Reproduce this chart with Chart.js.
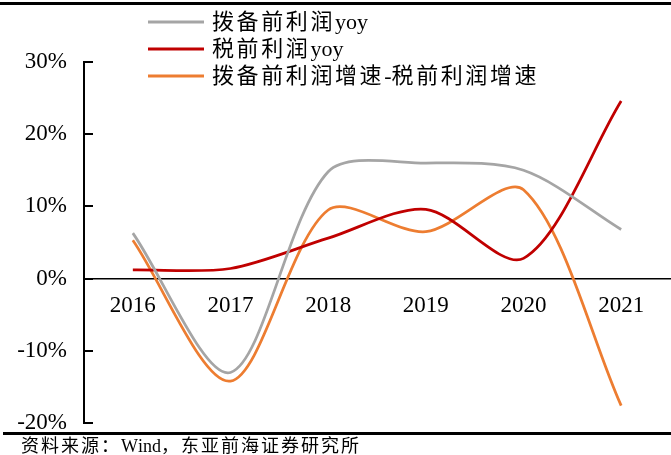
<!DOCTYPE html>
<html>
<head>
<meta charset="utf-8">
<script src="https://cdn.jsdelivr.net/npm/chart.js@4.4.0/dist/chart.umd.min.js"></script>
<style>
html, body { margin: 0; padding: 0; background: #fff; }
#wrap { width: 671px; height: 455px; position: relative; }
</style>
</head>
<body>
<div id="wrap"><canvas id="profitChart" width="671" height="455"></canvas></div>
<script>
// values (%)
var years = ['2016', '2017', '2018', '2019', '2020', '2021'];
var preProvisionYoy = [6.3, -13.0, 14.8, 16.0, 15.0, 6.8];
var preTaxYoy = [1.2, 1.4, 5.6, 9.6, 2.8, 24.6];
var growthGap = [5.3, -14.2, 9.5, 6.5, 12.3, -17.6];
var seriesNames = ['拨备前利润yoy', '税前利润yoy', '拨备前利润增速-税前利润增速'];
var seriesColors = ['#A5A5A5', '#C00000', '#ED7D31'];
var yTicks = [-20, -10, 0, 10, 20, 30];
var sourceNote = '资料来源：Wind，东亚前海证券研究所';

var serif = "'Liberation Serif', 'Times New Roman', 'Noto Sans CJK SC', serif";

// draws text char by char so CJK glyphs get the wider spacing of the original
function drawSpaced(ctx, text, x, y, cjkStep) {
    for (var i = 0; i < text.length; i++) {
        var ch = text[i];
        ctx.fillText(ch, x, y);
        x += ch.charCodeAt(0) > 0x2e80 ? cjkStep : ctx.measureText(ch).width;
    }
}

var decorPlugin = {
    id: 'decor',
    afterDraw: function (chart) {
        var ctx = chart.ctx;
        var yScale = chart.scales.y;
        var left = chart.chartArea.left;
        ctx.save();

        // frame lines top and bottom
        ctx.strokeStyle = '#000';
        ctx.lineWidth = 3;
        ctx.beginPath();
        ctx.moveTo(0, 3.5); ctx.lineTo(671, 3.5);
        ctx.moveTo(3, 433.5); ctx.lineTo(671, 433.5);
        ctx.stroke();

        // inward tick marks on the y axis
        ctx.lineWidth = 2;
        ctx.beginPath();
        yTicks.forEach(function (v) {
            var y = Math.round(yScale.getPixelForValue(v));
            ctx.moveTo(left - 1, y);
            ctx.lineTo(left + 9, y);
        });
        ctx.stroke();

        // legend
        ctx.font = '22px ' + serif;
        ctx.fillStyle = '#000';
        ctx.textBaseline = 'middle';
        chart.data.datasets.forEach(function (ds, i) {
            var y = 22 + i * 27;
            ctx.strokeStyle = ds.borderColor;
            ctx.lineWidth = 3;
            ctx.beginPath();
            ctx.moveTo(148, y); ctx.lineTo(204, y);
            ctx.stroke();
            drawSpaced(ctx, ds.label, 212, y + 1, 24.6);
        });

        // source note
        ctx.font = '18px ' + serif;
        drawSpaced(ctx, sourceNote, 21, 447, 20);
        ctx.restore();
    }
};

var profitCanvas = document.getElementById('profitChart').getContext('2d');

var profitChart = new Chart(profitCanvas, {
    type: 'line',
    data: {
        labels: years,
        datasets: [
            { label: seriesNames[0], data: preProvisionYoy, borderColor: seriesColors[0] },
            { label: seriesNames[1], data: preTaxYoy, borderColor: seriesColors[1] },
            { label: seriesNames[2], data: growthGap, borderColor: seriesColors[2] }
        ]
    },
    options: {
        responsive: false,
        animation: false,
        devicePixelRatio: 1,
        layout: { padding: { left: 0, top: 62, right: 1, bottom: 32 } },
        elements: {
            line: { borderWidth: 2.75, tension: 0.3, fill: false },
            point: { radius: 0 }
        },
        plugins: {
            legend: { display: false },
            tooltip: { enabled: false }
        },
        scales: {
            x: {
                type: 'category',
                position: { y: 0 },
                offset: true,
                grid: { display: false, drawTicks: false },
                border: { display: true, color: '#000', width: 1.5 },
                ticks: {
                    color: '#000',
                    font: { family: serif, size: 23 },
                    padding: 14,
                    maxRotation: 0,
                    autoSkip: false
                }
            },
            y: {
                min: -20,
                max: 30,
                afterFit: function (scale) { scale.width = 84; },
                afterBuildTicks: function (scale) {
                    scale.ticks = yTicks.map(function (v) { return { value: v }; });
                },
                grid: { display: false, drawTicks: false },
                border: { display: true, color: '#000', width: 2 },
                ticks: {
                    color: '#000',
                    font: { family: serif, size: 23 },
                    padding: 17,
                    callback: function (v) { return v + '%'; }
                }
            }
        }
    },
    plugins: [decorPlugin]
});
</script>
</body>
</html>
